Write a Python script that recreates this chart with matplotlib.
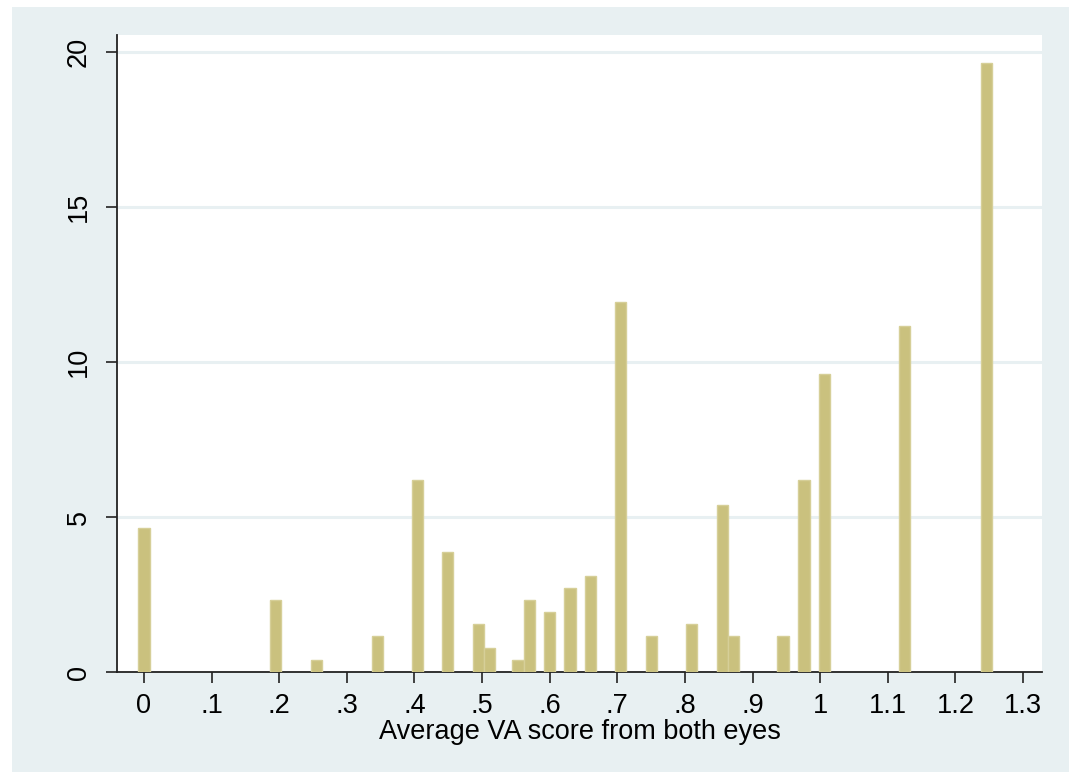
import matplotlib.pyplot as plt
from matplotlib.patches import Rectangle

# bar centres (VA score) and heights (density)
va_score = [0.0, 0.195, 0.255, 0.345, 0.405, 0.449, 0.495, 0.511, 0.553, 0.570,
            0.600, 0.630, 0.660, 0.705, 0.751, 0.810, 0.856, 0.872, 0.945, 0.976,
            1.006, 1.125, 1.246]
density = [4.63, 2.32, 0.39, 1.16, 6.18, 3.86, 1.54, 0.77, 0.39, 2.32,
           1.93, 2.70, 3.09, 11.95, 1.16, 1.54, 5.40, 1.16, 1.16, 6.18,
           9.62, 11.16, 19.66]
bar_width = 0.0168

xticks = [0, 0.1, 0.2, 0.3, 0.4, 0.5, 0.6, 0.7, 0.8, 0.9, 1.0, 1.1, 1.2, 1.3]
xlabels = ['0', '.1', '.2', '.3', '.4', '.5', '.6', '.7', '.8', '.9', '1', '1.1', '1.2', '1.3']
yticks = [0, 5, 10, 15, 20]

plt.rcParams['font.family'] = ['Liberation Sans', 'DejaVu Sans']

bg = '#e8f0f2'
fig = plt.figure(figsize=(10.69, 7.72), dpi=100, facecolor='white')
# light graph region (white strip left and top, like the original export)
fig.patches.append(Rectangle((12 / 1069, 0), 1 - 12 / 1069, 1 - 7 / 772,
                             transform=fig.transFigure, facecolor=bg,
                             edgecolor='none', zorder=-5))

ax = fig.add_axes([117 / 1069, 1 - 672 / 772, (1042 - 117) / 1069, (672 - 35) / 772])
ax.set_facecolor('white')

ax.bar(va_score, density, width=bar_width, color='#cac17e',
       edgecolor='#d6cf98', linewidth=1.0, zorder=3)

ax.set_xlim(-0.0398, 1.328)
ax.set_ylim(0, 20.55)

ax.set_xticks(xticks)
ax.set_xticklabels(xlabels)
ax.set_yticks(yticks)
ax.set_yticklabels([str(v) for v in yticks], rotation=90, va='center')

for y in yticks[1:]:
    ax.axhline(y, color=bg, linewidth=2.2, zorder=1)

for s in ['top', 'right']:
    ax.spines[s].set_visible(False)
for s in ['left', 'bottom']:
    ax.spines[s].set_color('#222222')
    ax.spines[s].set_linewidth(1.3)

ax.tick_params(axis='both', direction='out', length=8, width=1.2,
               color='#222222', labelsize=19.5)
ax.tick_params(axis='x', pad=7)
ax.tick_params(axis='y', pad=10)

ax.set_xlabel('Average VA score from both eyes', fontsize=19.5, labelpad=0)

fig.savefig('out.png', dpi=100, facecolor=fig.get_facecolor())
